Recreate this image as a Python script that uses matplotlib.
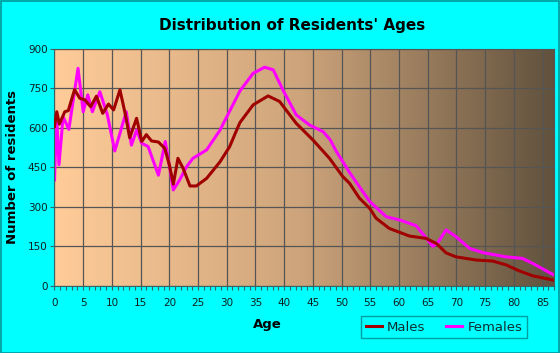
import numpy as np
import matplotlib.pyplot as plt
from matplotlib.colors import LinearSegmentedColormap
from matplotlib.patches import Rectangle

# ages / counts
male_age = [0.0, 0.4, 0.85, 1.8, 2.4, 3.5, 4.4, 5.3, 6.3, 7.3, 8.4, 9.4, 10.3, 11.4,
            12.3, 13.1, 14.3, 15.2, 16.0, 16.9, 18.1, 19.2, 20.0, 20.7, 21.5, 22.4,
            23.6, 24.7, 26.5, 28.8, 30.5, 31.7, 32.3, 34.6, 37.2, 39.2, 42.1, 45.0,
            47.9, 50.2, 51.4, 53.1, 54.9, 56.0, 58.3, 61.8, 64.7, 66.5, 68.2, 69.9,
            73.4, 76.3, 78.6, 80.9, 83.3, 86.8]
male_val = [605, 661, 614, 661, 665, 745, 712, 706, 680, 720, 655, 690, 668, 744,
            655, 562, 636, 548, 574, 550, 546, 522, 460, 386, 484, 446,
            379, 379, 408, 470, 528, 590, 620, 687, 721, 700, 617, 554,
            484, 415, 389, 333, 294, 257, 218, 189, 180, 161, 125, 110,
            98, 94, 80, 57, 38, 22]

female_age = [0.0, 0.38, 0.78, 1.5, 2.5, 4.1, 5.0, 5.8, 6.6, 7.9, 9.2, 10.5, 12.5,
              13.4, 14.3, 15.2, 16.3, 18.1, 19.3, 20.7, 21.8, 23.0, 24.1, 26.5,
              28.8, 32.3, 34.6, 36.6, 38.1, 39.8, 42.1, 44.4, 46.8, 48.0, 49.1,
              51.4, 54.9, 57.8, 60.1, 63.0, 64.4, 65.9, 66.8, 68.2, 69.9, 72.3,
              74.6, 78.6, 81.5, 83.3, 86.8]
female_val = [402, 648, 459, 642, 594, 826, 661, 725, 661, 737, 650, 512, 661,
              534, 591, 541, 529, 420, 548, 364, 402, 452, 484, 516,
              590, 740, 807, 830, 820, 743, 649, 611, 585, 555, 510,
              430, 320, 262, 250, 228, 190, 150, 165, 212, 187, 142,
              126, 110, 104, 85, 43]

yticks = [0, 150, 300, 450, 600, 750, 900]
xticks = list(range(0, 90, 5))

fig = plt.figure(figsize=(5.6, 3.53), dpi=100, facecolor='#00ffff')
fig.patches.append(Rectangle((0.001, 0.001), 0.997, 0.997, transform=fig.transFigure,
                             fill=False, edgecolor='#009a9a', lw=1.2))
ax = fig.add_axes([0.0973, 0.1904, 0.892, 0.6714])

# background gradient, light peach on the left to dark brown on the right
cmap = LinearSegmentedColormap.from_list('bg', [(0, (1.0, 0.80, 0.60)),
                                                (0.5, (0.80, 0.64, 0.48)),
                                                (1, (0.38, 0.32, 0.24))])
grad = np.linspace(0, 1, 256).reshape(1, -1)
ax.imshow(grad, cmap=cmap, extent=[0, 87, 0, 900], aspect='auto', zorder=0)

ax.plot(male_age, male_val, color='#a00000', lw=2.2, label='Males', zorder=3,
        solid_joinstyle='round')
ax.plot(female_age, female_val, color='#ff00ff', lw=2.2, label='Females', zorder=2,
        solid_joinstyle='round')

ax.set_xlim(0, 87)
ax.set_ylim(0, 900)
ax.set_xticks(xticks)
ax.set_xticks(range(0, 88), minor=True)
ax.set_yticks(yticks)
ax.grid(True, color='#555555', lw=0.9)
ax.tick_params(axis='both', labelsize=7.5, length=3, color='#336666', width=0.8,
               labelcolor='#102020', pad=6)
ax.tick_params(axis='x', which='minor', length=3, color='#336666', width=0.8)
ax.tick_params(axis='y', pad=2)
for s in ax.spines.values():
    s.set_color('#555555')
ax.spines['left'].set_color('#336666')
ax.spines['bottom'].set_color('#336666')

fig.text(0.522, 0.928, "Distribution of Residents' Ages", ha='center', va='center',
         fontsize=11, fontweight='bold')
fig.text(0.022, 0.527, 'Number of residents', rotation=90, ha='center', va='center',
         fontsize=9.5, fontweight='bold')
fig.text(0.477, 0.082, 'Age', ha='center', va='center', fontsize=9.5, fontweight='bold')

leg = fig.legend(loc='center', bbox_to_anchor=(0.793, 0.073), ncol=2, fontsize=9.5,
                 frameon=True, fancybox=False, facecolor='#00ffff', edgecolor='#008888',
                 handlelength=1.2, handletextpad=0.4, columnspacing=1.6,
                 borderpad=0.35)
leg.get_frame().set_linewidth(1.0)
for t in leg.get_texts():
    t.set_color('#103030')

plt.savefig('out.png', dpi=100, facecolor=fig.get_facecolor())
